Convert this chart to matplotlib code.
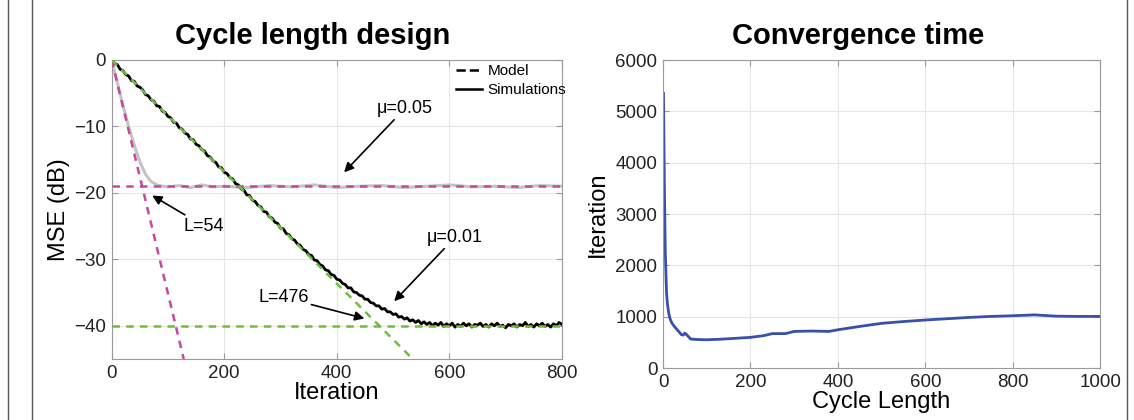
import matplotlib
matplotlib.use("Agg")
import matplotlib.pyplot as plt
from matplotlib.lines import Line2D
from matplotlib.patches import Rectangle

plt.rcParams["font.family"] = ["Liberation Sans", "DejaVu Sans"]

# ---- left panel: MSE learning curves ----
sim_x = list(range(0, 805, 5))
sim_mu01 = [0.0, -0.5, -0.7, -1.4, -1.6, -2.2, -2.4, -3.1, -3.2, -3.9,
            -4.1, -4.5, -5.2, -5.4, -6.0, -6.2, -6.9, -7.0, -7.7, -7.9,
            -8.5, -8.7, -9.4, -9.5, -10.2, -10.4, -11.0, -11.2, -11.9, -12.0,
            -12.7, -12.9, -13.5, -13.7, -14.4, -14.6, -15.2, -15.4, -16.1, -16.2,
            -16.9, -17.1, -17.7, -17.9, -18.6, -18.8, -19.4, -19.6, -20.3, -20.4,
            -21.1, -21.3, -21.9, -22.1, -22.8, -22.9, -23.6, -23.8, -24.4, -24.6,
            -25.3, -25.4, -26.1, -26.3, -26.9, -27.1, -27.7, -27.9, -28.5, -28.7,
            -29.3, -29.4, -30.1, -30.2, -30.8, -31.0, -31.6, -31.7, -32.3, -32.4,
            -33.0, -33.1, -33.6, -33.8, -34.3, -34.3, -34.9, -35.0, -35.4, -35.5,
            -36.0, -36.0, -36.5, -36.6, -37.0, -37.0, -37.5, -37.4, -37.9, -37.9,
            -38.3, -38.2, -38.7, -38.6, -39.0, -38.8, -39.3, -39.1, -39.5, -39.2,
            -39.7, -39.4, -39.8, -39.5, -40.0, -39.6, -39.9, -39.5, -40.1, -39.7,
            -40.0, -39.6, -40.2, -39.8, -40.1, -39.6, -40.0, -39.7, -40.2, -39.8,
            -39.9, -39.6, -40.1, -39.8, -40.2, -39.7, -40.0, -39.6, -40.1, -39.9,
            -40.3, -39.8, -40.0, -39.7, -40.2, -39.8, -40.0, -39.5, -40.1, -39.8,
            -40.2, -39.7, -40.0, -39.6, -40.1, -39.8, -40.2, -39.7, -40.0, -39.5,
            -39.8]

gray_x = [0, 10, 20, 30, 40, 50, 60, 70, 80, 90, 100, 120, 140, 160, 180, 200,
          240, 280, 320, 360, 400, 440, 480, 520, 560, 600, 640, 680, 720, 760, 800]
sim_mu05 = [0.0, -3.4, -6.8, -10.0, -12.8, -15.3, -17.2, -18.3, -18.8, -19.0,
            -19.1, -18.9, -19.2, -18.8, -19.1, -19.0, -19.2, -18.9, -19.1, -18.8,
            -19.2, -19.0, -18.9, -19.2, -19.0, -18.8, -19.1, -19.0, -19.2, -18.9, -19.0]

model_x_mu05 = [0, 128]
model_mu05 = [0, -45]
model_x_mu01 = [0, 535]
model_mu01 = [0, -45]
floor_mu05 = -19
floor_mu01 = -40

# ---- right panel: convergence time vs cycle length ----
cyc_len = [1, 3, 5, 8, 10, 13, 16, 20, 25, 29, 35, 42, 46, 50, 55, 63, 70, 80,
           100, 130, 160, 200, 230, 250, 280, 300, 340, 380, 400, 450, 500,
           550, 600, 650, 700, 750, 800, 850, 900, 950, 1000]
conv_iter = [5350, 3600, 2300, 1460, 1250, 1070, 960, 880, 820, 778, 720, 650,
             640, 680, 640, 565, 560, 555, 550, 560, 575, 597, 630, 670, 670,
             713, 720, 713, 745, 810, 870, 905, 935, 960, 985, 1005, 1018,
             1035, 1010, 1005, 1005]

MAGENTA = "#c8489a"
GREEN = "#6cbf3c"
SPINE = "#9a9a9a"

fig = plt.figure(figsize=(11.34, 4.2), dpi=100)
ax1 = fig.add_axes([0.0985, 0.1452, 0.397, 0.712])
ax2 = fig.add_axes([0.5847, 0.1238, 0.3854, 0.7333])

for ax in (ax1, ax2):
    ax.grid(True, color="#e6e6e6", lw=0.8)
    ax.set_axisbelow(True)
    for s in ax.spines.values():
        s.set_color(SPINE)
    ax.tick_params(direction="in", top=True, right=True, length=4,
                   color=SPINE, labelsize=13.5, labelcolor="#222222", pad=4)

dash = (3, 2.5)
ax1.plot(gray_x, sim_mu05, color="#c4c4c4", lw=2.2, zorder=2)
ax1.plot(sim_x, sim_mu01, color="black", lw=2.0, zorder=3)
ax1.axhline(floor_mu05, color=MAGENTA, lw=1.8, dashes=dash, zorder=4)
ax1.axhline(floor_mu01, color=GREEN, lw=1.8, dashes=dash, zorder=4)
ax1.plot(model_x_mu05, model_mu05, color=MAGENTA, lw=1.8, dashes=dash, zorder=4)
ax1.plot(model_x_mu01, model_mu01, color=GREEN, lw=1.8, dashes=dash, zorder=4)

ax1.set_xlim(0, 800)
ax1.set_ylim(-45, 0)
ax1.set_xticks([0, 200, 400, 600, 800])
ax1.set_yticks([0, -10, -20, -30, -40])
ax1.set_xlabel("Iteration", fontsize=17, labelpad=0)
ax1.set_ylabel("MSE (dB)", fontsize=17, labelpad=3)

arrow = dict(arrowstyle="-|>", color="black", lw=1.2, mutation_scale=14,
             shrinkA=0, shrinkB=0)
ax1.annotate("μ=0.05", xy=(413, -16.9), xytext=(521, -7.3), fontsize=13,
             ha="center", va="center", arrowprops=arrow)
ax1.annotate("L=54", xy=(72, -20.4), xytext=(164, -25.0), fontsize=13,
             ha="center", va="center", arrowprops=arrow)
ax1.annotate("μ=0.01", xy=(502, -36.3), xytext=(610, -26.7), fontsize=13,
             ha="center", va="center", arrowprops=arrow)
ax1.annotate("L=476", xy=(449, -38.9), xytext=(305, -35.7), fontsize=13,
             ha="center", va="center", arrowprops=arrow)

handles = [Line2D([], [], color="black", ls="--", lw=1.8),
           Line2D([], [], color="black", ls="-", lw=1.8)]
ax1.legend(handles, ["Model", "Simulations"], loc="upper right",
           bbox_to_anchor=(1.01, 0.985), frameon=False, fontsize=11,
           handlelength=1.7, handletextpad=0.4, labelspacing=0.3,
           borderpad=0, borderaxespad=0)

ax2.plot(cyc_len, conv_iter, color="#3850a8", lw=2)
ax2.set_xlim(0, 1000)
ax2.set_ylim(0, 6000)
ax2.set_xticks([0, 200, 400, 600, 800, 1000])
ax2.set_yticks([0, 1000, 2000, 3000, 4000, 5000, 6000])
ax2.set_xlabel("Cycle Length", fontsize=17, labelpad=0)
ax2.set_ylabel("Iteration", fontsize=17, labelpad=5)

# titles (descenders clipped as in the slide)
fig.text(313 / 1134, 1 - 44 / 420, "Cycle length design", fontsize=21,
         fontweight="bold", ha="center", va="baseline")
fig.text(858 / 1134, 1 - 44 / 420, "Convergence time", fontsize=21,
         fontweight="bold", ha="center", va="baseline")
for x0, x1 in [(160, 470), (720, 1000)]:
    fig.add_artist(Rectangle((x0 / 1134, 1 - 59 / 420), (x1 - x0) / 1134,
                             9 / 420, transform=fig.transFigure,
                             facecolor="white", edgecolor="none", zorder=5))
fig.add_artist(Rectangle((577 / 1134, 1 - 398 / 420), 20 / 1134, 34 / 420,
                         transform=fig.transFigure, facecolor="white",
                         edgecolor="none", zorder=5))

# slide frame lines
for xp in (8, 32, 1127):
    fig.add_artist(Line2D([xp / 1134, xp / 1134], [0, 1],
                          transform=fig.transFigure, color="#555555", lw=1))

fig.savefig("out.png", dpi=100)
